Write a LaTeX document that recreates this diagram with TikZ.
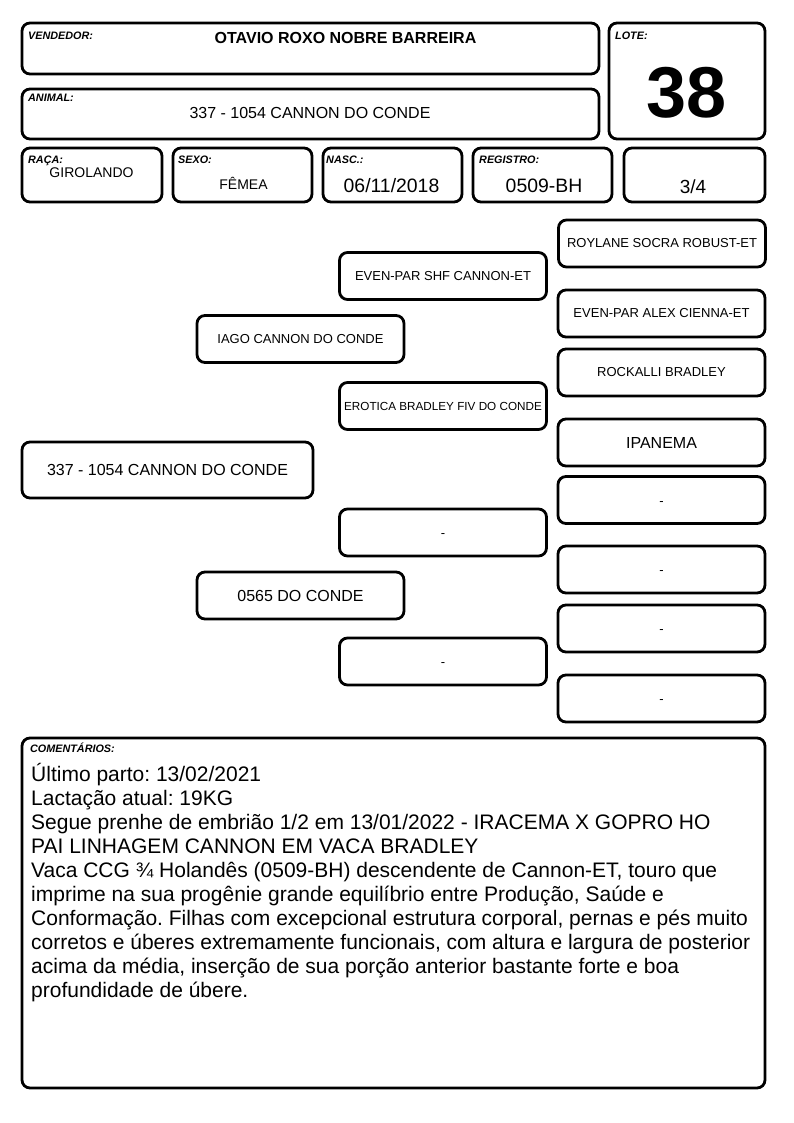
\documentclass[tikz,border=0pt]{standalone}
\usepackage{fontspec}
\setmainfont{Liberation Sans}
\frenchspacing
\begin{document}
\begin{tikzpicture}[x=1pt,y=-1pt,
  box/.style={draw, line width=2.8pt, rounded corners=8pt, inner sep=0pt, outer sep=0pt},
  lab/.style={anchor=base west, inner sep=0pt, font=\bfseries\itshape\fontsize{10.8}{12}\selectfont},
  val/.style={anchor=base, inner sep=0pt},
  ped/.style={box, minimum width=207pt, minimum height=47pt, font=\fontsize{13}{15}\selectfont},
  small/.style={font=\fontsize{11.7}{14}\selectfont},
  big/.style={font=\fontsize{16}{19}\selectfont},
  com/.style={anchor=base west, inner sep=0pt, font=\fontsize{21}{24}\selectfont}]
\useasboundingbox (0,0) rectangle (794,1123);

% header boxes
\node[box, minimum width=577pt, minimum height=51pt] (vend) at (310.5,48.5) {};
\node[lab] (vendlab) at (28,39.5) {VENDEDOR:};
\node[val, font=\bfseries\fontsize{16}{19}\selectfont] (vendname) at (345.5,43.4) {OTAVIO ROXO NOBRE BARREIRA};

\node[box, minimum width=577pt, minimum height=50pt] (animal) at (310.5,114) {};
\node[lab] (animallab) at (28,102) {ANIMAL:};
\node[val, big] (animalname) at (310,119) {337 - 1054 CANNON DO CONDE};

\node[box, minimum width=156pt, minimum height=116pt] (lote) at (687,81) {};
\node[lab] (lotelab) at (615,39.5) {LOTE:};
\node[val, font=\bfseries\fontsize{72}{80}\selectfont] (lotenum) at (687,118) {38};

\node[box, minimum width=140pt, minimum height=54pt] (raca) at (92,175) {};
\node[lab] (racalab) at (28,164) {RAÇA:};
\node[val, font=\fontsize{14}{17}\selectfont] (racaval) at (91.5,178) {GIROLANDO};

\node[box, minimum width=139pt, minimum height=54pt] (sexo) at (242.5,175) {};
\node[lab] (sexolab) at (178,164) {SEXO:};
\node[val, font=\fontsize{14}{17}\selectfont] (sexoval) at (243.5,190) {FÊMEA};

\node[box, minimum width=139pt, minimum height=54pt] (nasc) at (392.5,175) {};
\node[lab] (nasclab) at (326,164) {NASC.:};
\node[val, font=\fontsize{19.4}{22}\selectfont] (nascval) at (391.5,193) {06/11/2018};

\node[box, minimum width=139pt, minimum height=54pt] (reg) at (542.5,175) {};
\node[lab] (reglab) at (479,164) {REGISTRO:};
\node[val, font=\fontsize{19.4}{22}\selectfont] (regval) at (544,193) {0509-BH};

\node[box, minimum width=141pt, minimum height=54pt] (frac) at (694.5,175) {};
\node[val, font=\fontsize{19}{22}\selectfont] (fracval) at (693,194) {3/4};

% pedigree
\node[ped] (roylane) at (662,243.5) {ROYLANE SOCRA ROBUST-ET};
\node[ped] (shf) at (443,276) {EVEN-PAR SHF CANNON-ET};
\node[ped] (alex) at (661.5,313.5) {EVEN-PAR ALEX CIENNA-ET};
\node[ped] (iago) at (300.5,339) {IAGO CANNON DO CONDE};
\node[ped] (rockalli) at (661.5,372.5) {ROCKALLI BRADLEY};
\node[ped, small] (erotica) at (443,406) {EROTICA BRADLEY FIV DO CONDE};
\node[ped, big] (ipanema) at (661.5,442.5) {IPANEMA};
\node[ped] (r1) at (661.5,500) {\smash{\raisebox{-5pt}{-}}};
\node[ped] (m1) at (443,532.5) {\smash{\raisebox{-5pt}{-}}};
\node[ped] (r2) at (661.5,569.5) {\smash{\raisebox{-5pt}{-}}};
\node[ped] (r3) at (661.5,628.5) {\smash{\raisebox{-5pt}{-}}};
\node[ped] (m2) at (443,661.5) {\smash{\raisebox{-5pt}{-}}};
\node[ped] (r4) at (661.5,698.5) {\smash{\raisebox{-5pt}{-}}};
\node[ped, big, minimum width=291pt, minimum height=56pt] (self) at (167.5,470) {337 - 1054 CANNON DO CONDE};
\node[ped, big] (dam) at (300.5,595.5) {0565 DO CONDE};

% comments
\node[box, minimum width=743pt, minimum height=350pt] (comm) at (393.5,913) {};
\node[lab] (commlab) at (30,752) {COMENTÁRIOS:};
\foreach \t [count=\i] in {
  {Último parto: 13/02/2021},
  {Lactação atual: 19KG},
  {Segue prenhe de embrião 1/2 em 13/01/2022 - IRACEMA X GOPRO HO},
  {PAI LINHAGEM CANNON EM VACA BRADLEY},
  {Vaca CCG ¾ Holandês (0509-BH) descendente de Cannon-ET, touro que},
  {imprime na sua progênie grande equilíbrio entre Produção, Saúde e},
  {Conformação. Filhas com excepcional estrutura corporal, pernas e pés muito},
  {corretos e úberes extremamente funcionais, com altura e largura de posterior},
  {acima da média, inserção de sua porção anterior bastante forte e boa},
  {profundidade de úbere.}}
  \node[com] (cl\i) at (31,{781.5+23.95*(\i-1)}) {\t};
\end{tikzpicture}
\end{document}
